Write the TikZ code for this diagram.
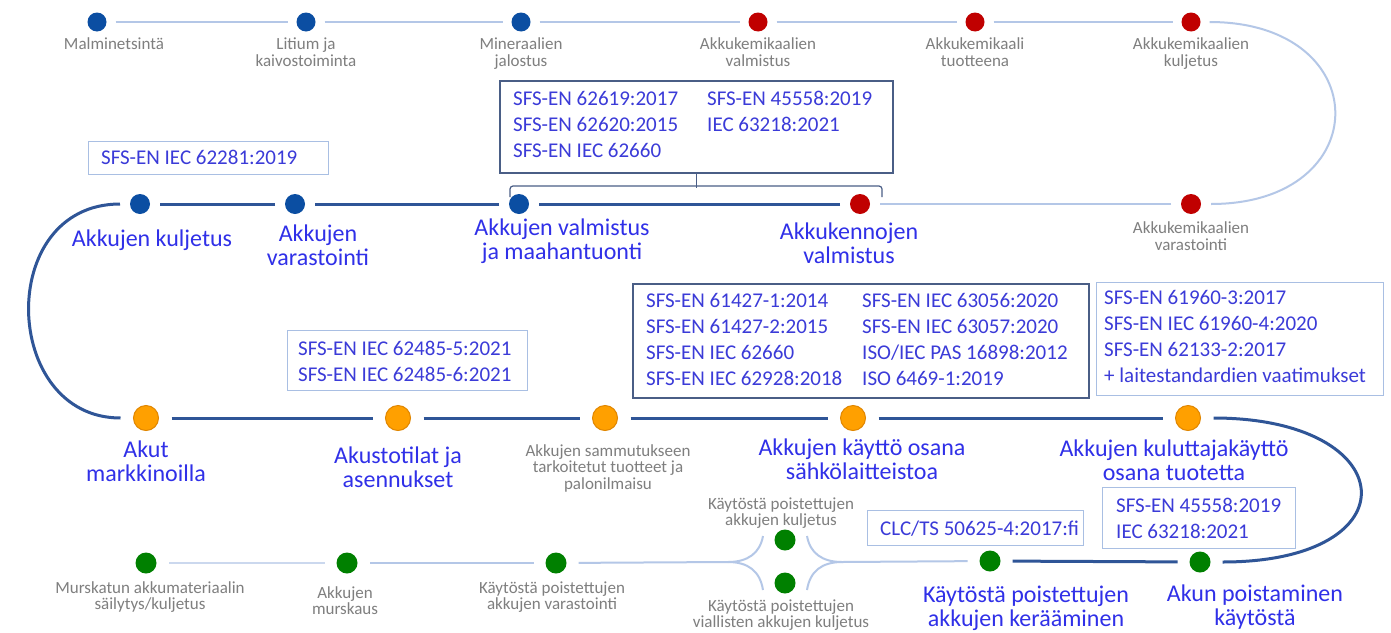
\documentclass[tikz,border=0pt]{standalone}
\usepackage{fontspec}
\setmainfont{Carlito}
\usepackage{xcolor}
\usetikzlibrary{positioning, calc}
\definecolor{dblue}{HTML}{0B4EA2}
\definecolor{dred}{HTML}{C00000}
\definecolor{dorange}{HTML}{FFA000}
\definecolor{dorangeedge}{HTML}{E08600}
\definecolor{dgreen}{HTML}{008000}
\definecolor{lineblue}{HTML}{2F5597}
\definecolor{lightline}{HTML}{B4C7E7}
\definecolor{labelblue}{HTML}{3030E8}
\definecolor{stdblue}{HTML}{3B3BD8}
\definecolor{boxdark}{HTML}{4A5E86}
\definecolor{boxlight}{HTML}{A9BFE3}
\definecolor{labelgray}{HTML}{7F7F7F}

\begin{document}
\begin{tikzpicture}[x=1pt, y=-1pt,
  topdot/.style={circle, inner sep=0pt, minimum size=19pt, outer sep=9pt},
  celldot/.style={circle, inner sep=0pt, minimum size=20pt, outer sep=10pt},
  usedot/.style={circle, inner sep=0pt, minimum size=25pt, outer sep=13pt, fill=dorange, draw=dorangeedge, line width=1pt},
  recdot/.style={circle, inner sep=0pt, minimum size=21pt, outer sep=12pt, fill=dgreen},
  graytext/.style={font=\fontsize{17}{16.5}\selectfont, text=labelgray, align=center, anchor=base, inner sep=0pt},
  steptext/.style={font=\fontsize{24}{24}\selectfont, text=labelblue, align=center, anchor=base, inner sep=0pt},
  stdtext/.style={font=\fontsize{21}{26}\selectfont, text=stdblue, align=left, anchor=base west, inner sep=0pt},
  lightbox/.style={draw=boxlight, line width=1.2pt, inner sep=0pt, anchor=north west},
  darkbox/.style={draw=boxdark, line width=2pt, inner sep=0pt, anchor=north west},
  thinline/.style={draw=lightline, line width=2pt},
  thickline/.style={draw=lineblue, line width=3pt}]
\useasboundingbox (0,0) rectangle (1391,632);
\fill[white] (0,0) rectangle (1391,632);

% raw materials and chemicals
\node[topdot, fill=dblue] (malmi) at (97,22) {};
\node[topdot, fill=dblue] (litium) at (306,22) {};
\node[topdot, fill=dblue] (mineraali) at (521,22) {};
\node[topdot, fill=dred] (kemValm) at (758,22) {};
\node[topdot, fill=dred] (kemTuote) at (975,22) {};
\node[topdot, fill=dred] (kemKulj) at (1191,22) {};
\node[graytext] (tMalmi) at (114,49) {Malminetsintä};
\node[graytext] (tLitium) at (306,66) {Litium ja\\kaivostoiminta};
\node[graytext] (tMineraali) at (521,66) {Mineraalien\\jalostus};
\node[graytext] (tKemValm) at (758,66) {Akkukemikaalien\\valmistus};
\node[graytext] (tKemTuote) at (975,66) {Akkukemikaali\\tuotteena};
\node[graytext] (tKemKulj) at (1191,66) {Akkukemikaalien\\kuljetus};
\draw[thinline] (malmi) -- (litium);
\draw[thinline] (litium) -- (mineraali);
\draw[thinline] (mineraali) -- (kemValm);
\draw[thinline] (kemValm) -- (kemTuote);
\draw[thinline] (kemTuote) -- (kemKulj);

% cells and batteries
\node[celldot, fill=dred] (kemVar) at (1191,204) {};
\node[celldot, fill=dred] (kennot) at (860,204) {};
\node[celldot, fill=dblue] (akkValm) at (519,204) {};
\node[celldot, fill=dblue] (akkVar) at (295,204) {};
\node[celldot, fill=dblue] (akkKulj) at (140,204) {};
\draw[thinline] (kemKulj) .. controls +(186,0) and +(186,0) .. (kemVar);
\draw[thinline] (kemVar) -- (kennot);
\draw[thickline] (kennot) -- (akkValm);
\draw[thickline] (akkValm) -- (akkVar);
\draw[thickline] (akkVar) -- (akkKulj);
\node[graytext] (tKemVar) at (1191,250) {Akkukemikaalien\\varastointi};
\node[steptext] (tKennot) at (849,263) {Akkukennojen\\valmistus};
\node[steptext] (tAkkValm) at (562,259) {Akkujen valmistus\\ja maahantuonti};
\node[steptext] (tAkkVar) at (318,265) {Akkujen\\varastointi};
\node[steptext] (tAkkKulj) at (152,246) {Akkujen kuljetus};

\node[lightbox, minimum width=240pt, minimum height=33pt] (b62281) at (88,141) {};
\node[stdtext] (s62281) at (101,164) {SFS-EN IEC 62281:2019};
\node[darkbox, minimum width=393pt, minimum height=92pt] (bCell) at (499,80) {};
\node[stdtext] (sCellA) at (513,157) {SFS-EN 62619:2017\\SFS-EN 62620:2015\\SFS-EN IEC 62660};
\node[stdtext] (sCellB) at (707,131) {SFS-EN 45558:2019\\IEC 63218:2021};
\coordinate (brL) at (510,197);
\coordinate (brR) at (882,197);
\draw[boxdark, line width=1.2pt] (bCell.south) -- ++(0,14);
\draw[boxdark, line width=1.2pt, rounded corners=3pt] (brL) -- (510,186) -- (882,186) -- (brR);

% use phase
\node[usedot] (akut) at (146,418) {};
\node[usedot] (tilat) at (398,418) {};
\node[usedot] (sammutus) at (605,418) {};
\node[usedot] (kaytto) at (853,418) {};
\node[usedot] (kulutus) at (1188,418) {};
\draw[thickline] (akkKulj) .. controls +(-145,0) and +(-145,0) .. (akut);
\draw[thickline] (akut) -- (tilat);
\draw[thickline] (tilat) -- (sammutus);
\draw[thickline] (sammutus) -- (kaytto);
\draw[thickline] (kaytto) -- (kulutus);
\node[steptext] (tAkut) at (146,481) {Akut\\markkinoilla};
\node[steptext] (tTilat) at (398,487) {Akustotilat ja\\asennukset};
\node[graytext] (tSammutus) at (608,489) {Akkujen sammutukseen\\tarkoitetut tuotteet ja\\palonilmaisu};
\node[steptext] (tKaytto) at (862,479) {Akkujen käyttö osana\\sähkölaitteistoa};
\node[steptext] (tKulutus) at (1174,480) {Akkujen kuluttajakäyttö\\osana tuotetta};

\node[lightbox, minimum width=240pt, minimum height=60pt] (b62485) at (287,330) {};
\node[stdtext] (s62485) at (298,381) {SFS-EN IEC 62485-5:2021\\SFS-EN IEC 62485-6:2021};
\node[darkbox, minimum width=456pt, minimum height=114pt] (bUse) at (632,283) {};
\node[stdtext] (sUseA) at (646,385) {SFS-EN 61427-1:2014\\SFS-EN 61427-2:2015\\SFS-EN IEC 62660\\SFS-EN IEC 62928:2018};
\node[stdtext] (sUseB) at (862,385) {SFS-EN IEC 63056:2020\\SFS-EN IEC 63057:2020\\ISO/IEC PAS 16898:2012\\ISO 6469-1:2019};
\node[lightbox, minimum width=287pt, minimum height=113pt] (bConsumer) at (1096,282) {};
\node[stdtext] (sConsumer) at (1104,382) {SFS-EN 61960-3:2017\\SFS-EN IEC 61960-4:2020\\SFS-EN 62133-2:2017\\+ laitestandardien vaatimukset};

% end of life
\node[recdot] (sailytys) at (146,563) {};
\node[recdot] (murskaus) at (347,563) {};
\node[recdot] (varast) at (556,563) {};
\node[recdot] (kpKulj) at (785,540) {};
\node[recdot] (kpVial) at (785,583) {};
\node[recdot] (keraa) at (990,561) {};
\node[recdot] (akunPoist) at (1200,562) {};
\draw[thickline] (kulutus) .. controls +(215,0) and +(215,0) .. (akunPoist);
\draw[thickline] (akunPoist) -- (keraa);
\coordinate (forkL) at (728,562);
\coordinate (forkR) at (842,562);
\coordinate (fLu) at (763,536);
\coordinate (fLd) at (763,590);
\coordinate (fRu) at (807,536);
\coordinate (fRd) at (807,590);
\draw[thinline] (keraa) -- (forkR);
\draw[thinline] (fRu) .. controls (810,553) and (822,562) .. (forkR) .. controls (822,562) and (810,571) .. (fRd);
\draw[thinline] (fLu) .. controls (760,553) and (748,562) .. (forkL) .. controls (748,562) and (760,571) .. (fLd);
\draw[thinline] (forkL) -- (varast);
\draw[thinline] (varast) -- (murskaus);
\draw[thinline, draw=lightline!70] (murskaus) -- (sailytys);
\node[graytext] (tSailytys) at (150,609.5) {Murskatun akkumateriaalin\\säilytys/kuljetus};
\node[graytext] (tMurskaus) at (345,614.5) {Akkujen\\murskaus};
\node[graytext] (tVarast) at (552,609.5) {Käytöstä poistettujen\\akkujen varastointi};
\node[graytext] (tKpKulj) at (781,525.5) {Käytöstä poistettujen\\akkujen kuljetus};
\node[graytext] (tKpVial) at (781,627.5) {Käytöstä poistettujen\\viallisten akkujen kuljetus};
\node[steptext] (tKeraa) at (1026,626) {Käytöstä poistettujen\\akkujen kerääminen};
\node[steptext] (tAkunPoist) at (1255,625) {Akun poistaminen\\käytöstä};

\node[lightbox, minimum width=216pt, minimum height=35pt] (bCollect) at (867,510) {};
\node[stdtext] (sCollect) at (880,535) {CLC/TS 50625-4:2017:fi};
\node[lightbox, minimum width=193pt, minimum height=61pt] (bRemove) at (1102,487) {};
\node[stdtext] (sRemove) at (1116,538) {SFS-EN 45558:2019\\IEC 63218:2021};
\end{tikzpicture}
\end{document}
